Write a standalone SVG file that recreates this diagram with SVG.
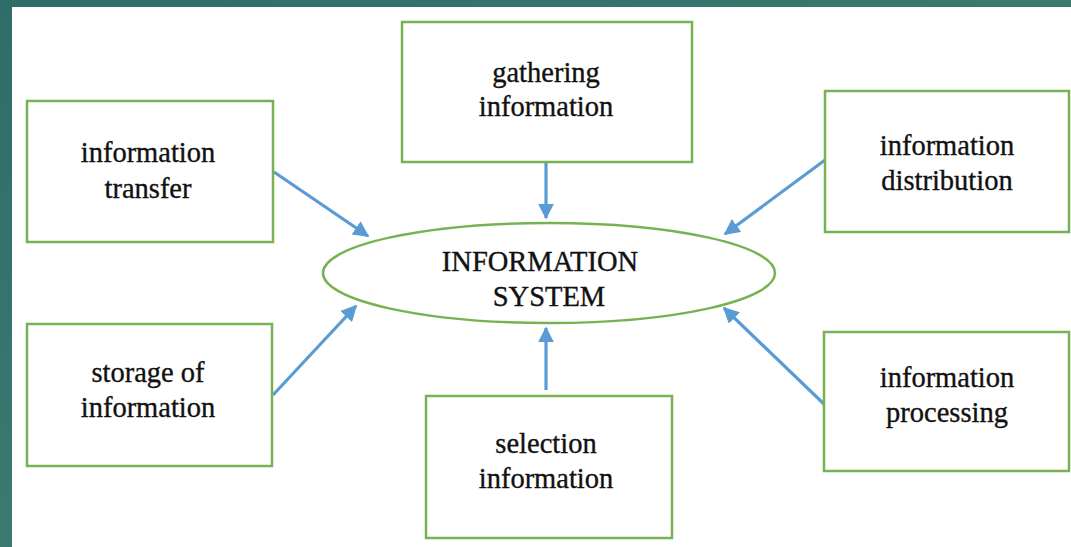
<svg xmlns="http://www.w3.org/2000/svg" width="1071" height="547" viewBox="0 0 1071 547">
<defs>
<linearGradient id="bg" x1="0" y1="0" x2="1" y2="1">
<stop offset="0" stop-color="#2f6d68"/>
<stop offset="0.5" stop-color="#3a7a70"/>
<stop offset="1" stop-color="#2a5f60"/>
</linearGradient>
<marker id="ah" viewBox="0 0 10 10" refX="9" refY="5" markerWidth="5" markerHeight="5" orient="auto" markerUnits="strokeWidth">
<path d="M0,0 L10,5 L0,10 z" fill="#5b9bd5"/>
</marker>
<style>
.box{fill:#fff;stroke:#77b252;stroke-width:2.5}
.t{font-family:"Liberation Serif","Times New Roman",serif;font-size:28.5px;fill:#111;stroke:#111;stroke-width:0.35;text-anchor:middle}
.c{stroke:#5b9bd5;stroke-width:3.2;fill:none;marker-end:url(#ah)}
</style>
</defs>
<rect width="1071" height="547" fill="url(#bg)"/>
<rect x="12" y="7" width="1059" height="540" fill="#fff"/>
<g id="connectors">
<line class="c" x1="274" y1="172" x2="368" y2="236"/>
<line class="c" x1="546" y1="162" x2="546" y2="218"/>
<line class="c" x1="825" y1="160" x2="725" y2="234"/>
<line class="c" x1="273" y1="395" x2="356" y2="306"/>
<line class="c" x1="546" y1="390" x2="546" y2="328"/>
<line class="c" x1="825" y1="405" x2="724" y2="308"/>
</g>
<g id="center">
<ellipse cx="549" cy="273" rx="226" ry="50" fill="#fff" stroke="#77b252" stroke-width="2.5"/>
<text class="t" x="540" y="271">INFORMATION</text>
<text class="t" x="549" y="306">SYSTEM</text>
</g>
<g id="gathering">
<rect class="box" x="402" y="22" width="290" height="140"/>
<text class="t" x="546" y="82">gathering</text>
<text class="t" x="546" y="116">information</text>
</g>
<g id="transfer">
<rect class="box" x="27" y="101" width="246" height="141"/>
<text class="t" x="148" y="162">information</text>
<text class="t" x="148" y="198">transfer</text>
</g>
<g id="distribution">
<rect class="box" x="825" y="91" width="244" height="141"/>
<text class="t" x="947" y="155">information</text>
<text class="t" x="947" y="190">distribution</text>
</g>
<g id="storage">
<rect class="box" x="27" y="324" width="245" height="142"/>
<text class="t" x="148" y="382">storage of</text>
<text class="t" x="148" y="417">information</text>
</g>
<g id="selection">
<rect class="box" x="426" y="396" width="246" height="142"/>
<text class="t" x="546" y="453">selection</text>
<text class="t" x="546" y="488">information</text>
</g>
<g id="processing">
<rect class="box" x="824" y="332" width="245" height="139"/>
<text class="t" x="947" y="387">information</text>
<text class="t" x="947" y="422">processing</text>
</g>
</svg>
